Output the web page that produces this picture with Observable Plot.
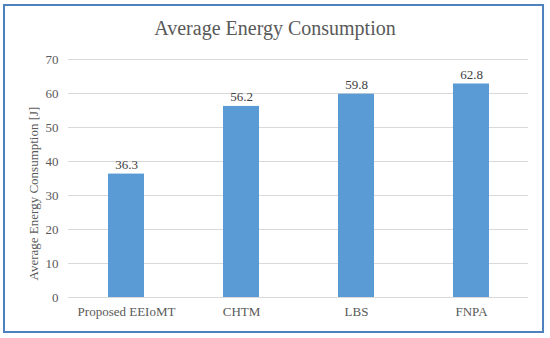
<!DOCTYPE html>
<html>
<head>
<meta charset="utf-8">
<script src="https://cdn.jsdelivr.net/npm/d3@7"></script>
<script src="https://cdn.jsdelivr.net/npm/@observablehq/plot@0.6"></script>
<style>
  html, body { margin: 0; padding: 0; background: #fff; }
  #wrap { position: relative; width: 550px; height: 338px; overflow: hidden; }
  #border { position: absolute; left: 3px; top: 4px; width: 537px; height: 325px; border: 2px solid #4F81BD; }
  #title { position: absolute; left: 0; width: 550px; top: 17px; text-align: center;
           font-family: "Liberation Serif", serif; font-size: 20px; color: #595959; }
  #chart { position: absolute; left: 0; top: 0; }
</style>
</head>
<body>
<div id="wrap">
  <div id="border"></div>
  <div id="title">Average Energy Consumption</div>
  <div id="chart"></div>
</div>
<script>
const categories = ["Proposed EEIoMT", "CHTM", "LBS", "FNPA"];
const values = [36.3, 56.2, 59.8, 62.8];
const yTicks = [0, 10, 20, 30, 40, 50, 60, 70];
const yLabel = "Average Energy Consumption [J]";

const data = categories.map((c, i) => ({category: c, value: values[i]}));

const chart = Plot.plot({
  width: 550,
  height: 338,
  marginLeft: 68,
  marginRight: 22,
  marginTop: 59,
  marginBottom: 41,
  style: {fontFamily: "Liberation Serif, serif", fontSize: "13px", color: "#595959", background: "transparent"},
  x: {domain: categories, paddingInner: 0.69, paddingOuter: 0.345, label: null},
  y: {domain: [0, 70], ticks: yTicks, label: null},
  marks: [
    Plot.ruleY(yTicks, {stroke: "#d9d9d9", strokeWidth: 1}),
    Plot.barY(data, {x: "category", y: "value", fill: "#5B9BD5"}),
    Plot.text(data, {x: "category", y: "value", text: d => d.value.toFixed(1), lineAnchor: "bottom", dy: -5, fill: "#404040", fontSize: 13}),
    Plot.axisX({tickSize: 0, tickPadding: 9, fontSize: 13, fill: "#595959"}),
    Plot.axisY({ticks: yTicks, tickSize: 0, tickPadding: 10, fontSize: 13, fill: "#595959"}),
    Plot.text([yLabel], {frameAnchor: "left", textAnchor: "middle", dx: -35, dy: 15, rotate: -90, text: d => d, fontSize: 13, fill: "#595959"})
  ]
});
document.getElementById("chart").appendChild(chart);
</script>
</body>
</html>
